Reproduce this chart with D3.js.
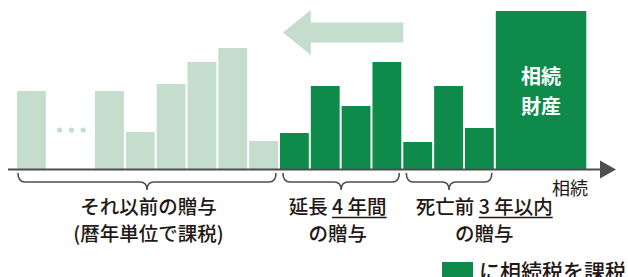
<!DOCTYPE html>
<html lang="ja">
<head>
<meta charset="utf-8">
<script src="https://cdn.jsdelivr.net/npm/d3@7"></script>
<style>
  body { margin: 0; background: #fff; }
  svg { display: block; }
  text { font-family: "Noto Sans CJK JP", "Noto Sans", sans-serif; }
</style>
</head>
<body>
<div id="chart"></div>
<script>
// Gifts per year, counted in years before the inheritance (0 = inheritance)
const oldYears = [-20, -13, -12, -11, -10, -9, -8];
const oldValues = [78, 78, 37, 85, 107, 121, 28];
const extYears = [-7, -6, -5, -4];
const extValues = [36, 83, 63, 107];
const recentYears = [-3, -2, -1];
const recentValues = [27, 83, 41];
const estateYear = 0;
const estateSpan = 3;
const estateValue = 158;

const estateLabel = ["相続", "財産"];
const axisLabel = "相続";
const periodLabels = [
    { pre: "それ以前の贈与", under: "", line2: "(暦年単位で課税)" },
    { pre: "延長 ", under: "4 年間", line2: "の贈与" },
    { pre: "死亡前 ", under: "3 年以内", line2: "の贈与" }
];
const legendLabel = "に相続税を課税";

const lightGreen = '#c4ddcd';
const darkGreen = '#0e8a4b';
const ink = '#231815';
const lineGrey = '#4d4d4d';

const width = 628, height = 277;

const svg = d3.select('#chart').append('svg')
    .attr('width', width)
    .attr('height', height);

// Broken time axis: one slot for the oldest gift, then a gap, then regular years
const xScale = d3.scaleLinear()
    .domain([-20, -19, -13, 0])
    .range([17, 47.8, 95, 495.8]);
const step = xScale(-12) - xScale(-13);
const barW = step - 2;

const yScale = d3.scaleLinear()
    .domain([0, estateValue])
    .range([169, 11]);

const toRows = (years, values) => years.map((y, i) => ({ year: y, value: values[i] }));
const oldData = toRows(oldYears, oldValues);
const extData = toRows(extYears, extValues);
const recentData = toRows(recentYears, recentValues);

// Arrow showing the extension (3 years -> 7 years)
const ay = 32.5;
const arrowPts = [
    [xScale(-7) + 3, ay],
    [xScale(-6), ay - 22.5],
    [xScale(-6), ay - 10],
    [xScale(-3), ay - 10],
    [xScale(-3), ay + 10],
    [xScale(-6), ay + 10],
    [xScale(-6), ay + 22.5]
];
svg.append('polygon')
    .attr('points', arrowPts.map(p => p.join(',')).join(' '))
    .attr('fill', lightGreen);

function drawBars(data, color) {
    svg.append('g').selectAll('rect')
        .data(data)
        .join('rect')
        .attr('x', d => xScale(d.year))
        .attr('y', d => yScale(d.value))
        .attr('width', barW)
        .attr('height', d => yScale(0) - yScale(d.value))
        .attr('fill', color);
}
drawBars(oldData, lightGreen);
drawBars(extData, darkGreen);
drawBars(recentData, darkGreen);

// dots in the gap
const gapStart = xScale(-19), gapEnd = xScale(-13);
svg.append('g').selectAll('circle')
    .data([0.25, 0.5, 0.75])
    .join('circle')
    .attr('cx', f => gapStart + (gapEnd - gapStart) * f)
    .attr('cy', yScale(oldValues[0] / 2))
    .attr('r', 2.6)
    .attr('fill', lightGreen);

// inherited estate
const ex0 = xScale(estateYear), ex1 = xScale(estateYear + estateSpan) - 2;
svg.append('rect')
    .attr('x', ex0)
    .attr('y', yScale(estateValue))
    .attr('width', ex1 - ex0)
    .attr('height', yScale(0) - yScale(estateValue))
    .attr('fill', darkGreen);

svg.append('g').selectAll('text')
    .data(estateLabel)
    .join('text')
    .attr('x', (ex0 + ex1) / 2)
    .attr('y', (d, i) => 84 + i * 30)
    .attr('text-anchor', 'middle')
    .attr('fill', '#fff')
    .style('font-size', '20px')
    .style('font-weight', 'bold')
    .text(d => d);

// time axis with arrow head
const axisY = yScale(0) + 0.5;
svg.append('line')
    .attr('x1', 8).attr('x2', 604)
    .attr('y1', axisY).attr('y2', axisY)
    .attr('stroke', lineGrey)
    .attr('stroke-width', 2);
svg.append('polygon')
    .attr('points', `600,${axisY - 9} 616,${axisY} 600,${axisY + 9}`)
    .attr('fill', lineGrey);

svg.append('text')
    .attr('x', 588)
    .attr('y', 195)
    .attr('text-anchor', 'end')
    .attr('fill', ink)
    .style('font-size', '18px')
    .text(axisLabel);

// braces under each period
const groups = [
    [xScale(oldYears[0]), xScale(oldYears[oldYears.length - 1]) + barW],
    [xScale(extYears[0]), xScale(extYears[extYears.length - 1]) + barW],
    [xScale(recentYears[0]), xScale(recentYears[recentYears.length - 1]) + barW]
];

function bracePath(x0, x1) {
    const m = (x0 + x1) / 2, r = 7;
    const yTop = 173, yMid = 182, yTip = 190;
    return `M${x0},${yTop} Q${x0},${yMid} ${x0 + r},${yMid} L${m - r},${yMid} ` +
        `Q${m},${yMid} ${m},${yTip} Q${m},${yMid} ${m + r},${yMid} ` +
        `L${x1 - r},${yMid} Q${x1},${yMid} ${x1},${yTop}`;
}

svg.append('g').selectAll('path')
    .data(groups)
    .join('path')
    .attr('d', (g, i) => bracePath(g[0] + (i ? 3 : 1), g[1] - 2))
    .attr('fill', 'none')
    .attr('stroke', lineGrey)
    .attr('stroke-width', 1.6);

// period labels
const labelCenters = [
    (groups[0][0] + groups[0][1]) / 2 + 1,
    (groups[1][0] + groups[1][1]) / 2 - 3,
    groups[2][0] + 81
];

periodLabels.forEach((lab, i) => {
    const cx = labelCenters[i];
    const t1 = svg.append('text')
        .attr('x', cx)
        .attr('y', 214)
        .attr('text-anchor', 'middle')
        .attr('fill', ink)
        .style('font-size', '19.5px')
        .style('font-weight', 500);
    t1.append('tspan').text(lab.pre);
    if (lab.under) {
        const u = t1.append('tspan').text(lab.under);
        const bb = u.node().getBBox();
        svg.append('line')
            .attr('x1', bb.x).attr('x2', bb.x + bb.width)
            .attr('y1', 217.5).attr('y2', 217.5)
            .attr('stroke', ink)
            .attr('stroke-width', 1.5);
    }
    svg.append('text')
        .attr('x', cx)
        .attr('y', 241)
        .attr('text-anchor', 'middle')
        .attr('fill', ink)
        .style('font-size', '19.5px')
        .style('font-weight', 500)
        .text(lab.line2);
});

// legend
svg.append('rect')
    .attr('x', 442).attr('y', 262)
    .attr('width', 31).attr('height', 20)
    .attr('fill', darkGreen);
svg.append('text')
    .attr('x', 479)
    .attr('y', 279)
    .attr('fill', ink)
    .style('font-size', '21px')
    .style('font-weight', 500)
    .text(legendLabel);
</script>
</body>
</html>
